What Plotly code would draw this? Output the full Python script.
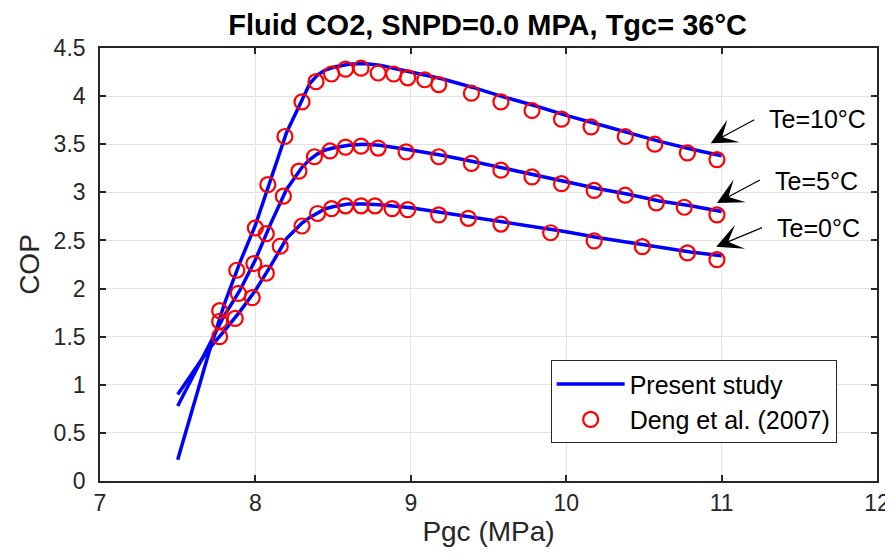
import plotly.graph_objects as go

# ---- data ----
line_x = [7.5, 7.6, 7.7, 7.8, 7.9, 8.0, 8.1, 8.2, 8.3, 8.35, 8.4, 8.45, 8.5, 8.6, 8.7, 8.8,
          9.0, 9.2, 9.4, 9.6, 9.8, 10.0, 10.2, 10.4, 10.6, 10.8, 11.0]
line_te10 = [0.22, 0.78, 1.33, 1.84, 2.27, 2.66, 3.15, 3.62, 3.96, 4.13, 4.22, 4.27, 4.30, 4.33, 4.34, 4.32,
             4.25, 4.18, 4.09, 3.99, 3.90, 3.80, 3.71, 3.62, 3.53, 3.45, 3.38]
line_te5 = [0.78, 1.10, 1.42, 1.72, 1.98, 2.30, 2.68, 3.03, 3.26, 3.34, 3.40, 3.44, 3.46, 3.49, 3.50, 3.49,
            3.44, 3.385, 3.32, 3.25, 3.18, 3.11, 3.04, 2.98, 2.91, 2.86, 2.80]
line_te0 = [0.90, 1.13, 1.37, 1.56, 1.76, 1.98, 2.24, 2.52, 2.68, 2.74, 2.79, 2.83, 2.85, 2.88, 2.88, 2.87,
            2.84, 2.79, 2.74, 2.69, 2.64, 2.59, 2.53, 2.48, 2.43, 2.38, 2.34]

deng_x_te10 = [7.77, 7.88, 8.00, 8.08, 8.19, 8.30, 8.39, 8.49, 8.58, 8.68, 8.79, 8.89, 8.98, 9.09, 9.18,
               9.39, 9.58, 9.78, 9.97, 10.16, 10.38, 10.57, 10.78, 10.97]
deng_y_te10 = [1.77, 2.19, 2.63, 3.08, 3.58, 3.94, 4.15, 4.23, 4.28, 4.29, 4.24, 4.23, 4.19, 4.17, 4.12,
               4.03, 3.94, 3.85, 3.76, 3.68, 3.58, 3.50, 3.41, 3.34]
deng_x_te5 = [7.77, 7.89, 7.99, 8.07, 8.18, 8.28, 8.38, 8.48, 8.58, 8.68, 8.79, 8.97, 9.18,
              9.39, 9.58, 9.78, 9.97, 10.18, 10.38, 10.58, 10.76, 10.97]
deng_y_te5 = [1.66, 1.95, 2.26, 2.57, 2.96, 3.22, 3.37, 3.43, 3.47, 3.48, 3.46, 3.42, 3.37,
              3.30, 3.23, 3.16, 3.09, 3.02, 2.97, 2.89, 2.845, 2.765]
deng_x_te0 = [7.77, 7.87, 7.98, 8.07, 8.16, 8.30, 8.40, 8.49, 8.58, 8.68, 8.77, 8.88, 8.98, 9.18,
              9.37, 9.58, 9.90, 10.18, 10.49, 10.78, 10.97]
deng_y_te0 = [1.50, 1.69, 1.905, 2.16, 2.44, 2.65, 2.78, 2.83, 2.86, 2.86, 2.86, 2.83, 2.82, 2.765,
              2.73, 2.67, 2.58, 2.495, 2.435, 2.37, 2.30]

labels = ["Te=10°C", "Te=5°C", "Te=0°C"]
label_x = [11.295, 11.333, 11.346]
label_y = [3.76, 3.12, 2.63]
arrow_head_x = [10.93, 10.97, 10.965]
arrow_head_y = [3.51, 2.89, 2.435]
arrow_tail_x = [11.22, 11.256, 11.27]
arrow_tail_y = [3.763, 3.136, 2.64]

x_ticks = [7, 8, 9, 10, 11, 12]
y_ticks = [0, 0.5, 1, 1.5, 2, 2.5, 3, 3.5, 4, 4.5]

FONT = "Liberation Sans, Arial, sans-serif"
AX = "#262626"

fig = go.Figure()
for i, ys in enumerate([line_te10, line_te5, line_te0]):
    fig.add_trace(go.Scatter(x=line_x, y=ys, mode="lines",
                             line=dict(color="#0000ff", width=3.5),
                             name="Present study", legendgroup="ps",
                             showlegend=(i == 0)))
for i, (xs, ys) in enumerate([(deng_x_te10, deng_y_te10), (deng_x_te5, deng_y_te5), (deng_x_te0, deng_y_te0)]):
    fig.add_trace(go.Scatter(x=xs, y=ys, mode="markers",
                             marker=dict(symbol="circle-open", size=15, color="#ff0000",
                                         line=dict(color="#ff0000", width=2.2)),
                             name="Deng et al. (2007)", legendgroup="deng",
                             showlegend=(i == 0)))

for i in range(3):
    fig.add_annotation(x=arrow_head_x[i], y=arrow_head_y[i], ax=arrow_tail_x[i], ay=arrow_tail_y[i],
                       xref="x", yref="y", axref="x", ayref="y", text="", showarrow=True,
                       arrowhead=3, arrowsize=3.6, arrowwidth=1.2, arrowcolor="black")
    fig.add_annotation(x=label_x[i], y=label_y[i], xref="x", yref="y", text=labels[i],
                       showarrow=False, xanchor="left", yanchor="middle",
                       font=dict(family=FONT, size=25, color="black"))

axis_common = dict(showgrid=True, gridcolor="#e3e3e3", gridwidth=1, zeroline=False,
                   showline=True, linecolor=AX, linewidth=1.6, mirror="ticks",
                   ticks="inside", ticklen=6, tickwidth=1.5, tickcolor=AX, automargin=False,
                   ticklabeloverflow="allow",
                   tickfont=dict(family=FONT, size=23, color=AX))

fig.update_xaxes(range=[7, 12], tickvals=x_ticks, ticktext=[str(v) for v in x_ticks],
                 title=dict(text="Pgc (MPa)", font=dict(family=FONT, size=28, color=AX), standoff=0),
                 ticklabelstandoff=1, **axis_common)
fig.update_yaxes(range=[0, 4.5], tickvals=y_ticks, ticktext=[f"{v:g}" for v in y_ticks],
                 title=dict(text="COP", font=dict(family=FONT, size=28, color=AX), standoff=6),
                 ticklabelstandoff=8, **axis_common)

# page body has an 8px margin, so the figure is 8px smaller and offsets are shifted by 8px
fig.update_layout(
    width=885, height=549,
    margin=dict(l=92, r=16, t=40, b=76),
    paper_bgcolor="white", plot_bgcolor="white",
    title=dict(text="<b>Fluid CO2, SNPD=0.0 MPA, Tgc= 36°C</b>", x=0.542, xanchor="center",
               y=0.970, yanchor="middle", font=dict(family=FONT, size=29, color="black"),
               automargin=False),
    legend=dict(x=0.58, y=0.279, xanchor="left", yanchor="top",
                bgcolor="white", bordercolor=AX, borderwidth=1,
                font=dict(family=FONT, size=25, color="black"),
                itemwidth=68, tracegroupgap=0),
    showlegend=True,
)

fig.write_html("out.html")
